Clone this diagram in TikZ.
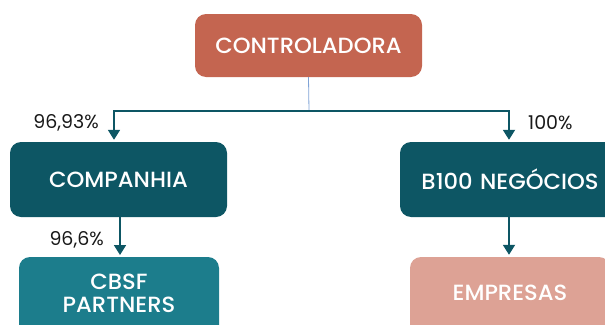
\documentclass[tikz,border=0pt]{standalone}
\usepackage{fontspec}
\setmainfont{Poppins}[BoldFont={Poppins Medium}, BoldFeatures={FakeStretch=1.03}]
\usetikzlibrary{arrows.meta}
\definecolor{ctrl}{HTML}{C46550}
\definecolor{dteal}{HTML}{0D5664}
\definecolor{mteal}{HTML}{1C7D8C}
\definecolor{pink}{HTML}{DDA295}
\definecolor{linkblue}{HTML}{7FA3D6}
\tikzset{
  box/.style={draw=none, rounded corners=11pt, inner sep=0pt, text=white, align=center, font=\fontsize{22}{23}\selectfont\bfseries},
  lbl/.style={text=white, align=center, inner sep=0pt, font=\fontsize{22}{23}\selectfont\bfseries},
  conn/.style={draw=dteal, line width=1.8pt, shorten >=2pt, -{Triangle[length=10pt,width=12pt]}},
  pct/.style={font=\fontsize{19}{20}\selectfont, text=black!90, inner sep=0pt}
}
\begin{document}
\begin{tikzpicture}[x=1pt,y=-1pt]
\useasboundingbox (0,0) rectangle (605,324);
\clip (0,0) rectangle (605,324);
\node[box, fill=ctrl, minimum width=227pt, minimum height=63pt] (ctrl) at (308.5,45.5) {CONTROLADORA};
\node[box, fill=dteal, minimum width=217pt, minimum height=75pt] (comp) at (118.5,179.5) {COMPANHIA};
\node[box, fill=dteal, minimum width=220pt, minimum height=75pt, text width=210pt] (b100) at (510,179.5) {B100 NEGÓCIOS};
\node[box, fill=mteal, minimum width=200pt, minimum height=80pt] (cbsf) at (119,297) {};
\node[lbl] (cbsft) at (119,293.5) {CBSF\\PARTNERS};
\node[box, fill=pink, minimum width=200pt, minimum height=80pt] (emp) at (510,297) {};
\node[lbl] (empt) at (510,293) {EMPRESAS};
\coordinate (split) at (309,111);
\coordinate (lft) at (114,111);
\coordinate (rgt) at (509,111);
\draw[draw=linkblue, line width=0.8pt] (ctrl.south) -- (split);
\draw[conn] (split) -- (lft) -- (lft |- comp.north);
\draw[conn] (split) -- (rgt) -- (rgt |- b100.north);
\draw[conn] (120,217) -- (120,257) coordinate (c1);
\draw[conn] (b100.south -| rgt) -- (rgt |- emp.north);
\node[pct, anchor=east] (p1) at (99,123) {96,93\%};
\node[pct, anchor=west] (p2) at (528,123) {100\%};
\node[pct, anchor=east] (p3) at (104,240) {96,6\%};
\end{tikzpicture}
\end{document}
